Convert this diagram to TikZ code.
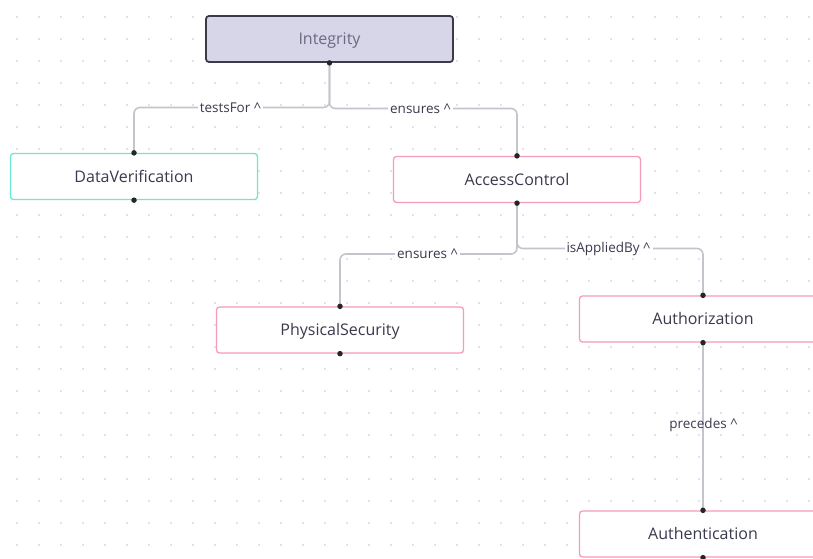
\documentclass[tikz,border=0pt]{standalone}
\usepackage{fontspec}
\setmainfont{Open Sans}
\begin{document}
\begin{tikzpicture}[x=1pt,y=-1pt,
  box/.style={draw, line width=1.3pt, rounded corners=3pt, fill=white,
    minimum width=247pt, minimum height=46pt, inner sep=0pt,
    text height=11.5pt, text depth=0pt,
    font=\fontsize{16}{18}\selectfont, text=textc},
  rootbox/.style={box, draw=rootline, fill=rootfill, line width=1.8pt, text=roottext},
  cyanbox/.style={box, draw=cyanline},
  pinkbox/.style={box, draw=pinkline},
  conn/.style={draw=connc, line width=1.6pt, rounded corners=6pt},
  lbl/.style={fill=white, inner xsep=2pt, inner ysep=1pt,
    font=\fontsize{13.5}{15}\selectfont, text=textc},
  pin/.style={fill=black!85, draw=none, circle, minimum size=5.5pt, inner sep=0pt},
  griddot/.style={fill=gridc}]
\definecolor{textc}{HTML}{3A3A4E}
\definecolor{roottext}{HTML}{6A6A80}
\definecolor{rootfill}{HTML}{D7D6E8}
\definecolor{rootline}{HTML}{3A3A48}
\definecolor{cyanline}{HTML}{6BE8D2}
\definecolor{pinkline}{HTML}{F59AB8}
\definecolor{connc}{HTML}{C4C4CC}
\definecolor{gridc}{HTML}{C6C6CC}

\useasboundingbox (0,0) rectangle (813,558);
\begin{scope}
\clip (0,0) rectangle (813,558);

% dotted canvas
\foreach \gx in {0,...,36}{
  \foreach \gy in {0,...,25}{
    \fill[griddot] ({17+22*\gx},{17+22*\gy}) circle (0.8pt);
  }
}

% nodes
\node[rootbox] (integ) at (329.5,39) {Integrity};
\node[cyanbox] (dv) at (134,176.5) {DataVerification};
\node[pinkbox] (ac) at (517,179.5) {AccessControl};
\node[pinkbox] (ps) at (340,330) {PhysicalSecurity};
\node[pinkbox] (authz) at (703,319) {Authorization};
\node[pinkbox] (authn) at (703,534) {Authentication};

% bend levels of the elbow connectors
\coordinate (lvA) at (0,107.5);
\coordinate (lvB) at (0,108.5);
\coordinate (lvC) at (0,254);
\coordinate (lvD) at (0,248.5);

% connectors
\draw[conn] (integ.south) -- (integ.south |- lvA) -| (dv.north);
\draw[conn] (integ.south) -- (integ.south |- lvB) -| (ac.north);
\draw[conn] (ac.south) -- (ac.south |- lvC) -| (ps.north);
\draw[conn] (ac.south) -- (ac.south |- lvD) -| (authz.north);
\draw[conn] (authz.south) -- (authn.north);

% connector labels
\node[lbl] (l1) at (230.5,107.5) {testsFor \textasciicircum};
\node[lbl] (l2) at (420.5,108.5) {ensures \textasciicircum};
\node[lbl] (l3) at (427.5,254) {ensures \textasciicircum};
\node[lbl] (l4) at (608.5,248.5) {isAppliedBy \textasciicircum};
\node[lbl, fill=none] (l5) at (703.5,425) {precedes \textasciicircum};

% port markers
\node[pin] at (integ.south) {};
\foreach \n in {dv,ac,ps,authz,authn}{
  \node[pin] at (\n.north) {};
  \node[pin] at (\n.south) {};
}
\end{scope}
\end{tikzpicture}
\end{document}
